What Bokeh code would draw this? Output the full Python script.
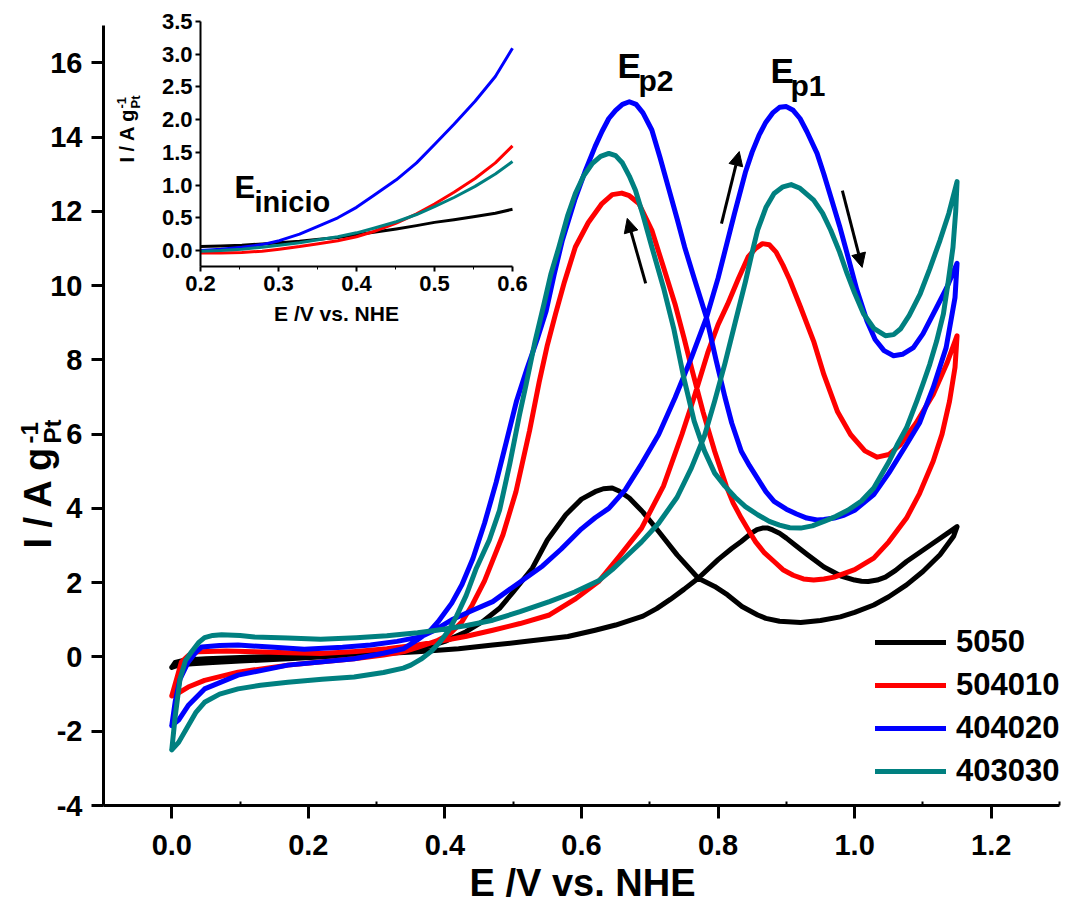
import math
from bokeh.plotting import figure
from bokeh.models import (Range1d, LinearAxis, FixedTicker, PrintfTickFormatter,
                          Label, Arrow, NormalHead, Legend, LegendItem)
from bokeh.embed import file_html
from bokeh.resources import INLINE

# ---------------- data ----------------
series_names = ["5050", "504010", "404020", "403030"]
series_colors = ["#000000", "#FF0000", "#0000FF", "#008080"]

black_x = [0.00, 0.01, 0.03, 0.06, 0.10, 0.17, 0.27, 0.36, 0.42, 0.47, 0.52, 0.58, 0.62, 0.65, 0.69, 0.71, 0.73,
           0.75, 0.771, 0.80, 0.82, 0.834, 0.85, 0.857, 0.865, 0.873, 0.88, 0.89, 0.90, 0.915, 0.931, 0.955,
           0.98, 1.00, 1.01, 1.02, 1.033, 1.045, 1.06, 1.076, 1.11, 1.15,
           1.145, 1.135, 1.125, 1.10, 1.076, 1.05, 1.028, 1.00, 0.979, 0.95, 0.921, 0.89, 0.87, 0.858, 0.835,
           0.814, 0.795, 0.771, 0.74, 0.713, 0.69, 0.67, 0.655, 0.645, 0.632, 0.62, 0.60, 0.577, 0.55, 0.528,
           0.50, 0.48, 0.455, 0.431, 0.40, 0.383, 0.35, 0.31, 0.22, 0.12, 0.05, 0.02, 0.005, 0.00]
black_y = [-0.28, -0.22, -0.18, -0.15, -0.11, -0.05, 0.05, 0.14, 0.22, 0.32, 0.42, 0.55, 0.72, 0.86, 1.10, 1.30, 1.55,
           1.82, 2.12, 2.62, 2.92, 3.11, 3.35, 3.43, 3.47, 3.47, 3.42, 3.33, 3.20, 2.98, 2.75, 2.42,
           2.18, 2.07, 2.04, 2.03, 2.07, 2.15, 2.33, 2.57, 3.00, 3.51,
           3.25, 3.00, 2.75, 2.30, 1.94, 1.62, 1.40, 1.20, 1.08, 0.98, 0.93, 0.96, 1.04, 1.13, 1.36,
           1.67, 1.90, 2.12, 2.75, 3.38, 3.90, 4.28, 4.47, 4.55, 4.53, 4.45, 4.25, 3.83, 3.15, 2.39,
           1.75, 1.31, 0.95, 0.68, 0.42, 0.32, 0.22, 0.15, 0.05, 0.00, -0.05, -0.08, -0.15, -0.28]

red_x = [0.00, 0.007, 0.014, 0.025, 0.039, 0.08, 0.121, 0.17, 0.218, 0.27, 0.315, 0.36, 0.388, 0.43, 0.47, 0.51,
         0.553, 0.59, 0.625, 0.655, 0.688, 0.72, 0.747, 0.765, 0.785, 0.80, 0.814, 0.83, 0.844, 0.855, 0.865,
         0.875, 0.885, 0.895, 0.905, 0.921, 0.94, 0.955, 0.975, 0.994, 1.015, 1.033, 1.05, 1.067, 1.09, 1.115,
         1.135, 1.15,
         1.147, 1.139, 1.128, 1.115, 1.095, 1.076, 1.05, 1.028, 1.00, 0.97, 0.955, 0.94, 0.925, 0.91, 0.895,
         0.882, 0.868, 0.855, 0.845, 0.834, 0.822, 0.812, 0.795, 0.778, 0.761, 0.75, 0.737, 0.72, 0.703,
         0.684, 0.67, 0.659, 0.645, 0.63, 0.61, 0.591, 0.575, 0.562, 0.55, 0.538, 0.524, 0.504, 0.485, 0.47,
         0.458, 0.44, 0.425, 0.407, 0.388, 0.359, 0.339, 0.31, 0.267, 0.17, 0.097, 0.048, 0.024, 0.007, 0.00]
red_y = [-1.05, -0.60, -0.14, 0.05, 0.14, 0.16, 0.14, 0.11, 0.09, 0.15, 0.22, 0.32, 0.41, 0.55, 0.72, 0.90,
         1.13, 1.55, 2.03, 2.70, 3.47, 4.60, 5.99, 7.00, 8.20, 8.95, 9.50, 10.20, 10.77, 11.00, 11.13,
         11.10, 10.90, 10.55, 10.15, 9.41, 8.50, 7.60, 6.60, 5.99, 5.55, 5.38, 5.45, 5.72, 6.30, 7.07,
         7.90, 8.65,
         7.80, 6.89, 6.00, 5.27, 4.40, 3.74, 3.10, 2.66, 2.35, 2.15, 2.10, 2.07, 2.10, 2.20, 2.35,
         2.57, 2.80, 3.10, 3.40, 3.74, 4.15, 4.60, 5.54, 6.60, 7.79, 8.60, 9.50, 10.50, 11.49,
         12.21, 12.42, 12.49, 12.45, 12.21, 11.70, 11.04, 10.10, 9.24, 8.40, 7.40, 6.10, 4.45, 3.29, 2.60,
         2.05, 1.40, 0.95, 0.62, 0.43, 0.25, 0.14, 0.05, -0.05, -0.22, -0.41, -0.63, -0.81, -1.00, -1.05]

blue_x = [0.00, 0.005, 0.012, 0.024, 0.035, 0.044, 0.07, 0.097, 0.15, 0.194, 0.25, 0.291, 0.33, 0.364, 0.385,
          0.41, 0.44, 0.47, 0.504, 0.543, 0.57, 0.60, 0.62, 0.64, 0.664, 0.688, 0.713, 0.737, 0.761, 0.783,
          0.80, 0.824, 0.84, 0.85, 0.86, 0.87, 0.88, 0.89, 0.90, 0.91, 0.92, 0.93, 0.945, 0.955, 0.965, 0.978,
          0.989, 1.003, 1.018, 1.03, 1.043, 1.057, 1.07, 1.086, 1.10, 1.12, 1.135, 1.15,
          1.147, 1.134, 1.115, 1.095, 1.076, 1.05, 1.028, 1.00, 0.985, 0.97, 0.955, 0.945, 0.93, 0.915, 0.90,
          0.882, 0.87, 0.858, 0.846, 0.834, 0.82, 0.81, 0.797, 0.783, 0.765, 0.751, 0.74, 0.727, 0.715, 0.703,
          0.69, 0.68, 0.67, 0.66, 0.65, 0.64, 0.63, 0.62, 0.606, 0.59, 0.572, 0.56, 0.548, 0.535, 0.52, 0.505,
          0.49, 0.475, 0.458, 0.441, 0.425, 0.41, 0.39, 0.378, 0.359, 0.339, 0.31, 0.267, 0.17, 0.097, 0.048,
          0.024, 0.01, 0.00]
blue_y = [-1.85, -1.20, -0.60, -0.14, 0.12, 0.27, 0.31, 0.32, 0.26, 0.21, 0.26, 0.32, 0.42, 0.54, 0.72,
          1.00, 1.25, 1.49, 1.94, 2.45, 2.90, 3.45, 3.75, 4.00, 4.50, 5.20, 5.99, 6.98, 8.06, 9.14,
          10.20, 11.94, 13.05, 13.60, 14.05, 14.40, 14.65, 14.80, 14.82, 14.72, 14.50, 14.15, 13.56, 13.00,
          12.39, 11.60, 10.86, 9.90, 9.05, 8.55, 8.25, 8.11, 8.15, 8.33, 8.70, 9.41, 9.95, 10.60,
          9.68, 8.33, 7.25, 6.30, 5.72, 4.95, 4.37, 3.95, 3.82, 3.74, 3.70, 3.69, 3.74, 3.85, 3.98,
          4.19, 4.45, 4.80, 5.15, 5.54, 6.30, 7.00, 8.00, 9.14, 10.20, 11.04, 11.80, 12.66, 13.45, 14.19,
          14.65, 14.88, 14.95, 14.88, 14.72, 14.50, 14.15, 13.75, 13.11, 12.30, 11.22, 10.30, 9.30, 8.55, 7.75, 6.90,
          5.80, 4.70, 3.60, 2.65, 1.95, 1.45, 0.95, 0.70, 0.45, 0.22, 0.10, -0.05, -0.22, -0.49, -0.86,
          -1.31, -1.70, -1.85]

teal_x = [0.00, 0.005, 0.012, 0.02, 0.029, 0.04, 0.048, 0.06, 0.073, 0.10, 0.121, 0.17, 0.218, 0.27, 0.315,
          0.36, 0.388, 0.43, 0.47, 0.51, 0.553, 0.59, 0.625, 0.645, 0.665, 0.688, 0.713, 0.74, 0.761, 0.78,
          0.795, 0.81, 0.825, 0.84, 0.85, 0.858, 0.87, 0.882, 0.895, 0.907, 0.92, 0.94, 0.953, 0.965, 0.978,
          0.989, 1.00, 1.013, 1.028, 1.045, 1.057, 1.067, 1.08, 1.096, 1.11, 1.125, 1.138, 1.15,
          1.148, 1.144, 1.137, 1.13, 1.12, 1.11, 1.10, 1.091, 1.076, 1.062, 1.05, 1.028, 1.01, 0.99, 0.972,
          0.955, 0.938, 0.921, 0.905, 0.89, 0.875, 0.858, 0.84, 0.825, 0.81, 0.795, 0.78, 0.765, 0.75, 0.735,
          0.72, 0.703, 0.69, 0.679, 0.67, 0.66, 0.65, 0.64, 0.628, 0.616, 0.603, 0.591, 0.58, 0.567, 0.555,
          0.545, 0.532, 0.519, 0.509, 0.495, 0.48, 0.465, 0.446, 0.431, 0.417, 0.405, 0.393, 0.38, 0.365,
          0.35, 0.339, 0.31, 0.267, 0.22, 0.17, 0.13, 0.097, 0.07, 0.048, 0.035, 0.024, 0.01, 0.00]
teal_y = [-2.50, -1.60, -0.60, -0.10, 0.14, 0.40, 0.52, 0.58, 0.60, 0.58, 0.54, 0.51, 0.48, 0.52, 0.57,
          0.65, 0.72, 0.84, 0.99, 1.22, 1.49, 1.75, 2.05, 2.35, 2.70, 3.10, 3.60, 4.30, 5.09, 5.95,
          6.89, 7.90, 9.00, 10.10, 10.90, 11.50, 12.10, 12.48, 12.66, 12.72, 12.62, 12.30, 11.95, 11.49, 10.90,
          10.32, 9.80, 9.24, 8.85, 8.65, 8.68, 8.83, 9.20, 9.78, 10.45, 11.22, 11.95, 12.80,
          12.00, 11.03, 10.10, 9.24, 8.50, 7.88, 7.35, 6.89, 6.17, 5.70, 5.25, 4.55, 4.20, 3.95, 3.78,
          3.65, 3.53, 3.47, 3.48, 3.55, 3.65, 3.83, 4.05, 4.30, 4.60, 4.95, 5.55, 6.35, 7.50, 8.85,
          9.95, 11.04, 11.90, 12.57, 12.95, 13.30, 13.50, 13.56, 13.48, 13.29, 12.95, 12.48, 11.90, 11.04, 10.30,
          9.50, 8.50, 7.35, 6.50, 5.20, 3.95, 3.15, 2.39, 1.65, 1.10, 0.70, 0.41, 0.15, -0.06,
          -0.22, -0.30, -0.42, -0.54, -0.60, -0.68, -0.76, -0.86, -1.00, -1.22, -1.50, -1.85, -2.30, -2.50]

main_x = [black_x, red_x, blue_x, teal_x]
main_y = [black_y, red_y, blue_y, teal_y]

# inset (onset region)
inset_x = [0.20, 0.226, 0.253, 0.279, 0.301, 0.327, 0.349, 0.376, 0.40, 0.422, 0.451, 0.477, 0.50, 0.525,
           0.552, 0.578, 0.60]
inset_black = [0.06, 0.07, 0.08, 0.10, 0.12, 0.14, 0.17, 0.20, 0.24, 0.28, 0.33, 0.38, 0.43, 0.47, 0.52, 0.57, 0.63]
inset_red = [-0.04, -0.04, -0.03, -0.01, 0.02, 0.06, 0.10, 0.15, 0.21, 0.29, 0.42, 0.56, 0.71, 0.89, 1.10, 1.34, 1.60]
inset_blue = [0.00, 0.02, 0.05, 0.09, 0.15, 0.25, 0.36, 0.50, 0.66, 0.84, 1.08, 1.34, 1.62, 1.93, 2.28, 2.66, 3.09]
inset_teal = [-0.01, 0.00, 0.02, 0.05, 0.08, 0.12, 0.16, 0.21, 0.27, 0.34, 0.44, 0.55, 0.67, 0.81, 0.98, 1.17, 1.36]
inset_y = [inset_black, inset_red, inset_blue, inset_teal]

x_ticks = [0.0, 0.2, 0.4, 0.6, 0.8, 1.0, 1.2]
x_minor = [-0.1, 0.1, 0.3, 0.5, 0.7, 0.9, 1.1, 1.3]
y_ticks = [-4, -2, 0, 2, 4, 6, 8, 10, 12, 14, 16]
inset_x_ticks = [0.2, 0.3, 0.4, 0.5, 0.6]
inset_x_minor = [0.25, 0.35, 0.45, 0.55]
inset_y_ticks = [0.0, 0.5, 1.0, 1.5, 2.0, 2.5, 3.0, 3.5]

# ---------------- layout (pixel placement of the axes) ----------------
W, H = 1065, 903
AXL, AXR = 103, 1059          # pixel columns of x = -0.1 and x = 1.3
AXB, AXT = 805, 14            # pixel rows of y = -4 and y = 17.3
XA0, XA1 = -0.1, 1.3
YA0, YA1 = -4.0, 17.3
IL, IR = 200, 512             # inset x 0.2 .. 0.6 in pixels
IY0PX, IY35PX = 250, 21       # inset y 0.0 and 3.5 in pixels
FONT = "Liberation Sans"
BASE = 0.33                   # label baseline correction (fraction of font size)

xpp = (XA1 - XA0) / (AXR - AXL)
ypp = (YA1 - YA0) / (AXB - AXT)


def sx(px):
    return XA0 + (px - AXL) * xpp


def sy(py):
    return YA0 + (AXB - py) * ypp


ixs = (IR - IL) / 0.4
iys = (IY0PX - IY35PX) / 3.5


def isx(px):
    return 0.2 + (px - IL) / ixs


def isy(py):
    return (IY0PX - py) / iys


p = figure(width=W, height=H, x_range=Range1d(sx(0), sx(W)), y_range=Range1d(sy(H), sy(0)),
           output_backend="svg", toolbar_location=None, x_axis_type=None, y_axis_type=None,
           min_border_left=0, min_border_right=0, min_border_top=0, min_border_bottom=0)
p.outline_line_color = None
p.background_fill_color = "white"
p.border_fill_color = "white"
p.extra_x_ranges = {"ix": Range1d(isx(0), isx(W))}
p.extra_y_ranges = {"iy": Range1d(isy(H), isy(0))}


def style_axis(ax, size, lw):
    ax.axis_line_width = lw
    ax.axis_line_color = "black"
    ax.major_tick_line_width = lw
    ax.minor_tick_line_width = max(1, lw - 1)
    ax.major_label_text_font = FONT
    ax.major_label_text_font_size = size
    ax.major_label_text_font_style = "bold"
    ax.major_label_text_color = "black"


# main x axis at y = -4
xax = LinearAxis(ticker=FixedTicker(ticks=x_ticks, minor_ticks=x_minor), fixed_location=YA0,
                 formatter=PrintfTickFormatter(format="%.1f"), bounds=(XA0, XA1))
style_axis(xax, "29px", 3)
xax.major_tick_in = 0
xax.major_tick_out = 13
xax.minor_tick_in = 4
xax.minor_tick_out = 0
xax.major_label_standoff = 16
p.add_layout(xax, "below")

# main y axis at x = -0.1
yax = LinearAxis(ticker=FixedTicker(ticks=y_ticks, minor_ticks=[]), fixed_location=XA0,
                 formatter=PrintfTickFormatter(format="%d"), bounds=(YA0, 17))
style_axis(yax, "29px", 3)
yax.major_tick_in = 0
yax.major_tick_out = 12
yax.minor_tick_in = 0
yax.minor_tick_out = 0
yax.major_label_standoff = 9
p.add_layout(yax, "left")

# inset axes (drawn with the inset ranges)
ixax = LinearAxis(x_range_name="ix", y_range_name="iy", fixed_location=-0.25, bounds=(0.2, 0.6),
                  ticker=FixedTicker(ticks=inset_x_ticks, minor_ticks=inset_x_minor),
                  formatter=PrintfTickFormatter(format="%.1f"))
style_axis(ixax, "22px", 2)
ixax.major_tick_in = 0
ixax.major_tick_out = 5
ixax.minor_tick_in = 0
ixax.minor_tick_out = 3
ixax.major_label_standoff = 4
p.add_layout(ixax, "below")

iyax = LinearAxis(x_range_name="ix", y_range_name="iy", fixed_location=0.2, bounds=(-0.25, 3.5),
                  ticker=FixedTicker(ticks=inset_y_ticks, minor_ticks=[]),
                  formatter=PrintfTickFormatter(format="%.1f"))
style_axis(iyax, "22px", 2)
iyax.major_tick_in = 0
iyax.major_tick_out = 5
iyax.minor_tick_in = 0
iyax.minor_tick_out = 0
iyax.major_label_standoff = 3
p.add_layout(iyax, "left")

# main curves
renderers = []
for xs, ys, c in zip(main_x, main_y, series_colors):
    r = p.line(xs, ys, line_color=c, line_width=5, line_join="round", line_cap="round")
    renderers.append(r)

# inset curves
for ys, c in zip(inset_y, series_colors):
    p.line(inset_x, ys, line_color=c, line_width=3, line_join="round",
           x_range_name="ix", y_range_name="iy")

# legend
legend = Legend(items=[LegendItem(label=n, renderers=[r]) for n, r in zip(series_names, renderers)],
                location=(875, H - 789), orientation="vertical",
                label_text_font=FONT, label_text_font_size="31px", label_text_font_style="bold",
                label_text_color="black", glyph_width=71, glyph_height=36, label_height=36,
                spacing=7, padding=0, margin=0, label_standoff=10,
                border_line_color=None, background_fill_alpha=0)
p.add_layout(legend)

# arrows (scan direction)
arrow_tail_x = [0.694, 0.805, 0.982]
arrow_tail_y = [10.06, 11.67, 12.56]
arrow_tip_x = [0.667, 0.831, 1.011]
arrow_tip_y = [11.81, 13.61, 10.49]
for x0, y0, x1, y1 in zip(arrow_tail_x, arrow_tail_y, arrow_tip_x, arrow_tip_y):
    p.add_layout(Arrow(end=NormalHead(size=14, fill_color="black", line_color="black", line_width=1),
                       x_start=x0, y_start=y0, x_end=x1, y_end=y1,
                       line_color="black", line_width=3))


def label(text, x, y, size, angle=0.0, align="left", **kw):
    p.add_layout(Label(x=x, y=y, text=text, text_font=FONT, text_font_size=f"{size}px",
                       text_font_style="bold", text_color="black", angle=angle,
                       text_align=align, text_baseline="alphabetic", **kw))


def hlabel(text, px, base_py, size, inset=False, align="left"):
    py = base_py - BASE * size
    if inset:
        label(text, isx(px), isy(py), size, align=align, x_range_name="ix", y_range_name="iy")
    else:
        label(text, sx(px), sy(py), size, align=align)


def vlabel(text, base_px, start_py, size, inset=False):
    px = base_px - BASE * size
    R = math.pi / 2
    if inset:
        label(text, isx(px), isy(start_py), size, angle=R, x_range_name="ix", y_range_name="iy")
    else:
        label(text, sx(px), sy(start_py), size, angle=R)


# axis titles
hlabel("E /V vs. NHE", 582, 895, 38, align="center")
hlabel("E /V vs. NHE", 336, 320, 21, inset=True, align="center")

# peak labels
hlabel("E", 617, 77, 35)
hlabel("p2", 638, 90, 30)
hlabel("E", 770, 82, 35)
hlabel("p1", 790, 95, 30)

# onset label in the inset
hlabel("E", 234, 197, 31, inset=True)
hlabel("inicio", 254, 211, 29, inset=True)

# main y axis title (rotated, with sub/superscript)
vlabel("I / A g", 50, 548, 38)
vlabel("Pt", 60, 443, 24)
vlabel("-1", 37, 443, 24)

# inset y axis title
vlabel("I / A g", 133, 162, 20, inset=True)
vlabel("Pt", 139, 108, 13, inset=True)
vlabel("-1", 125, 108, 13, inset=True)

open("out.html", "w").write(file_html(p, INLINE))
